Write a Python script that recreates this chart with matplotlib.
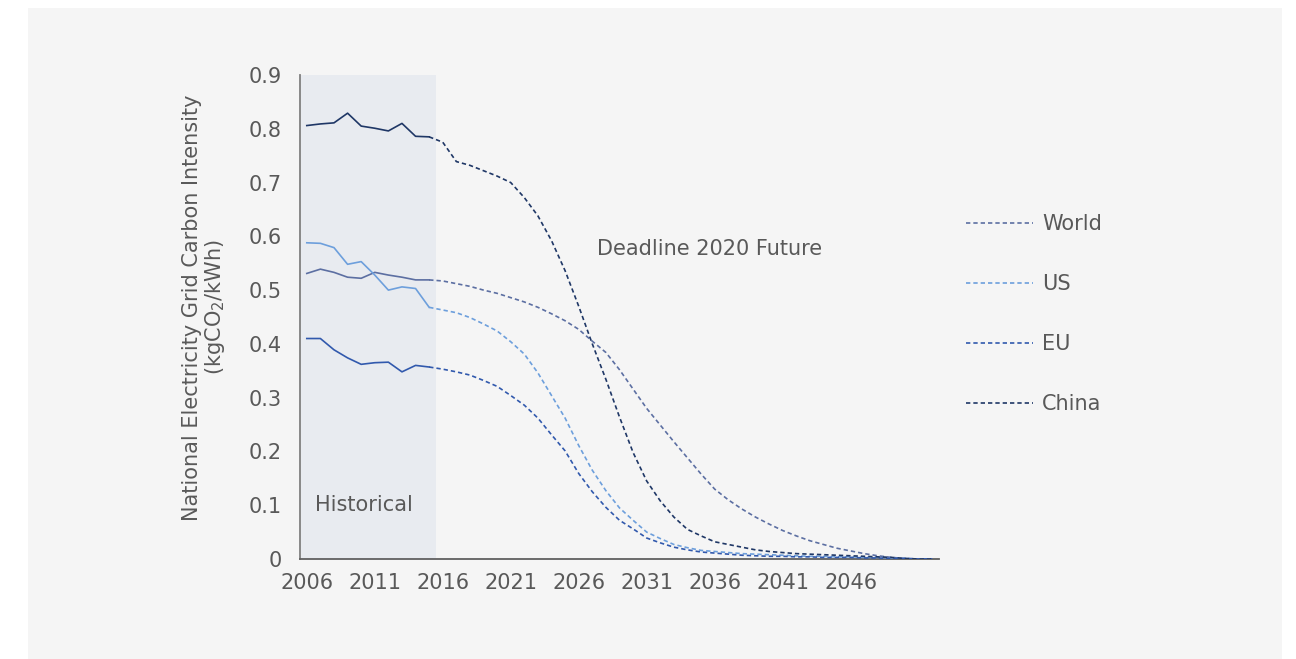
import numpy as np
import matplotlib
matplotlib.use('Agg')
import matplotlib.pyplot as plt
from matplotlib.lines import Line2D
from matplotlib.patches import Rectangle

# grid carbon intensity, kgCO2/kWh
hist_years = list(range(2006, 2016))
world_hist = [0.531, 0.539, 0.533, 0.524, 0.522, 0.533, 0.528, 0.524, 0.519, 0.519]
us_hist = [0.588, 0.587, 0.579, 0.548, 0.553, 0.528, 0.500, 0.506, 0.503, 0.468]
eu_hist = [0.410, 0.410, 0.389, 0.374, 0.362, 0.365, 0.366, 0.348, 0.360, 0.357]
china_hist = [0.806, 0.809, 0.811, 0.829, 0.805, 0.801, 0.796, 0.810, 0.786, 0.785]

future_years = list(range(2015, 2053))
world_future = [0.519, 0.517, 0.512, 0.507, 0.500, 0.494, 0.486, 0.478, 0.468, 0.456,
                0.443, 0.427, 0.405, 0.384, 0.352, 0.316, 0.280, 0.249, 0.218, 0.188,
                0.158, 0.130, 0.110, 0.093, 0.078, 0.065, 0.053, 0.043, 0.034, 0.027,
                0.020, 0.015, 0.010, 0.006, 0.003, 0.001, 0.0, 0.0]
us_future = [0.468, 0.463, 0.458, 0.449, 0.437, 0.424, 0.404, 0.381, 0.346, 0.304,
             0.262, 0.211, 0.165, 0.127, 0.095, 0.072, 0.050, 0.038, 0.027, 0.021,
             0.016, 0.014, 0.012, 0.010, 0.009, 0.008, 0.007, 0.006, 0.005, 0.005,
             0.004, 0.004, 0.003, 0.003, 0.002, 0.001, 0.0, 0.0]
eu_future = [0.357, 0.353, 0.348, 0.342, 0.332, 0.321, 0.304, 0.286, 0.262, 0.231,
             0.201, 0.159, 0.125, 0.096, 0.072, 0.056, 0.039, 0.030, 0.022, 0.017,
             0.013, 0.011, 0.009, 0.007, 0.006, 0.005, 0.005, 0.004, 0.004, 0.003,
             0.003, 0.003, 0.002, 0.002, 0.001, 0.001, 0.0, 0.0]
china_future = [0.785, 0.775, 0.739, 0.732, 0.722, 0.712, 0.700, 0.672, 0.638, 0.592,
                0.536, 0.470, 0.400, 0.334, 0.264, 0.198, 0.145, 0.108, 0.078, 0.055,
                0.043, 0.032, 0.027, 0.022, 0.017, 0.014, 0.012, 0.010, 0.009, 0.008,
                0.007, 0.006, 0.005, 0.004, 0.003, 0.001, 0.0, 0.0]

series_names = ['World', 'US', 'EU', 'China']
series_colors = ['#5c6fa2', '#6d9fdc', '#3159ad', '#1f3766']
x_ticks = list(range(2006, 2047, 5))
y_ticks = [0, 0.1, 0.2, 0.3, 0.4, 0.5, 0.6, 0.7, 0.8, 0.9]
y_tick_labels = ['0', '0.1', '0.2', '0.3', '0.4', '0.5', '0.6', '0.7', '0.8', '0.9']

text_color = '#595959'
fs = 15
plt.rcParams['font.family'] = ['DejaVu Sans']

fig = plt.figure(figsize=(12.96, 6.59), dpi=100, facecolor='white')
fig.patches.append(Rectangle((28 / 1296, 0), (1282 - 28) / 1296, 1 - 8 / 659,
                             transform=fig.transFigure, facecolor='#f5f5f5',
                             edgecolor='none', zorder=-10))

ax = fig.add_axes([300 / 1296, 1 - 559 / 659, 639 / 1296, 484 / 659])
ax.set_facecolor('none')

ax.axvspan(2005.5, 2015.5, color='#e8ebf0', zorder=0, lw=0)

hist = [world_hist, us_hist, eu_hist, china_hist]
future = [world_future, us_future, eu_future, china_future]
dash = (0, (2.6, 1.8))
for name, col, h, f in zip(series_names, series_colors, hist, future):
    ax.plot(hist_years, h, color=col, lw=1.2, zorder=3)
    ax.plot(future_years, f, color=col, lw=1.2, ls=dash, zorder=3)

ax.set_xlim(2005.5, 2052.5)
ax.set_ylim(0, 0.9)
ax.set_xticks(x_ticks)
ax.set_xticklabels([str(y) for y in x_ticks])
ax.set_yticks(y_ticks)
ax.set_yticklabels(y_tick_labels)
ax.tick_params(length=0, labelsize=fs, colors=text_color)
ax.tick_params(axis='y', pad=13)
ax.tick_params(axis='x', pad=10)

for s in ['top', 'right']:
    ax.spines[s].set_visible(False)
ax.spines['left'].set_color('#808080')
ax.spines['bottom'].set_color('#606060')
ax.spines['left'].set_linewidth(1.3)
ax.spines['bottom'].set_linewidth(1.3)

ax.set_ylabel('National Electricity Grid Carbon Intensity\n(kgCO$_2$/kWh)',
              fontsize=fs, color=text_color, linespacing=1.05)
ax.yaxis.set_label_coords(-0.114, 0.52)

ax.text(2006.6, 0.1, 'Historical', fontsize=fs, color=text_color, va='center')
ax.text(2035.6, 0.576, 'Deadline 2020 Future', fontsize=fs, color=text_color,
        va='center', ha='center')

handles = [Line2D([], [], color=c, lw=1.2, ls=dash) for c in series_colors]
fig.legend(handles, series_names, loc='upper left',
           bbox_to_anchor=(966 / 1296, 1 - 214 / 659), frameon=False,
           fontsize=fs, labelcolor=text_color, handlelength=3.2,
           handletextpad=0.45, labelspacing=1.92, borderpad=0, borderaxespad=0)

fig.savefig('out.png', dpi=100, facecolor=fig.get_facecolor())
